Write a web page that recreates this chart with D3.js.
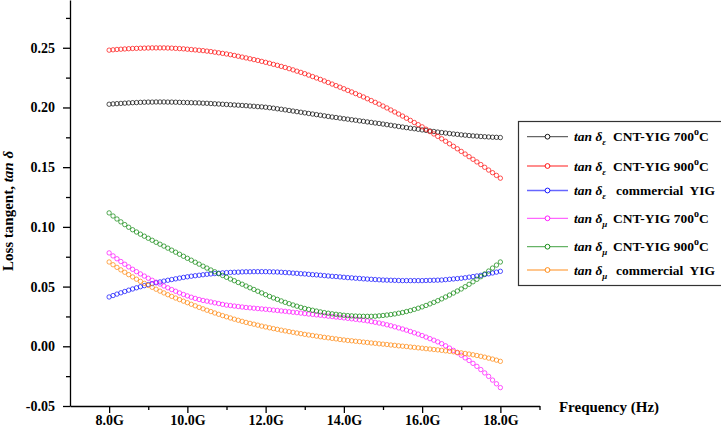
<!DOCTYPE html>
<head>
<meta charset="utf-8">
<style type="text/css">
    body {
      font-family: "Liberation Serif", "Times New Roman", serif;
      margin: 0;
      background: #fff;
    }
    text { font-weight: bold; font-family: "Liberation Serif", "Times New Roman", serif; }
</style>
</head>
<script src="https://d3js.org/d3.v7.min.js"></script>
<body>
    <svg width="721" height="428"></svg>
    <script>
        // frequency (GHz)
        var freq = [8.0, 8.1, 8.2, 8.3, 8.4, 8.5, 8.6, 8.7, 8.8, 8.9,
            9.0, 9.1, 9.2, 9.3, 9.4, 9.5, 9.6, 9.7, 9.8, 9.9,
            10.0, 10.1, 10.2, 10.3, 10.4, 10.5, 10.6, 10.7, 10.8, 10.9,
            11.0, 11.1, 11.2, 11.3, 11.4, 11.5, 11.6, 11.7, 11.8, 11.9,
            12.0, 12.1, 12.2, 12.3, 12.4, 12.5, 12.6, 12.7, 12.8, 12.9,
            13.0, 13.1, 13.2, 13.3, 13.4, 13.5, 13.6, 13.7, 13.8, 13.9,
            14.0, 14.1, 14.2, 14.3, 14.4, 14.5, 14.6, 14.7, 14.8, 14.9,
            15.0, 15.1, 15.2, 15.3, 15.4, 15.5, 15.6, 15.7, 15.8, 15.9,
            16.0, 16.1, 16.2, 16.3, 16.4, 16.5, 16.6, 16.7, 16.8, 16.9,
            17.0, 17.1, 17.2, 17.3, 17.4, 17.5, 17.6, 17.7, 17.8, 17.9,
            18.0];

        var tanEpsCnt700 = [.2027, .2030, .2032, .2034, .2036, .2038, .2040, .2041, .2043, .2044,
            .2045, .2045, .2046, .2046, .2046, .2045, .2045, .2044, .2043, .2042,
            .2041, .2040, .2039, .2038, .2036, .2035, .2033, .2031, .2029, .2027,
            .2025, .2023, .2021, .2019, .2017, .2015, .2012, .2010, .2007, .2005,
            .2002, .1998, .1994, .1989, .1985, .1980, .1975, .1970, .1965, .1960,
            .1955, .1950, .1945, .1940, .1935, .1930, .1925, .1920, .1916, .1911,
            .1906, .1902, .1897, .1893, .1888, .1884, .1879, .1875, .1870, .1866,
            .1861, .1856, .1851, .1846, .1841, .1836, .1831, .1826, .1822, .1817,
            .1812, .1808, .1803, .1799, .1794, .1790, .1786, .1782, .1778, .1775,
            .1771, .1768, .1765, .1762, .1760, .1757, .1755, .1753, .1751, .1750,
            .1748];

        var tanEpsCnt900 = [.2480, .2483, .2486, .2488, .2490, .2492, .2494, .2495, .2496, .2497,
            .2498, .2499, .2499, .2499, .2499, .2498, .2497, .2495, .2493, .2491,
            .2488, .2485, .2482, .2479, .2476, .2472, .2468, .2463, .2458, .2453,
            .2448, .2442, .2436, .2429, .2422, .2415, .2408, .2401, .2394, .2386,
            .2378, .2370, .2361, .2353, .2344, .2335, .2325, .2315, .2304, .2294,
            .2283, .2271, .2259, .2247, .2235, .2222, .2209, .2196, .2183, .2170,
            .2157, .2143, .2130, .2116, .2102, .2088, .2073, .2058, .2043, .2028,
            .2012, .1996, .1979, .1962, .1945, .1928, .1910, .1892, .1874, .1856,
            .1838, .1818, .1798, .1778, .1758, .1738, .1717, .1696, .1675, .1654,
            .1632, .1610, .1588, .1566, .1544, .1522, .1499, .1476, .1454, .1431,
            .1408];

        var tanEpsCommercial = [.0413, .0425, .0437, .0448, .0459, .0470, .0480, .0490, .0499, .0508,
            .0517, .0525, .0532, .0539, .0546, .0553, .0559, .0565, .0571, .0577,
            .0582, .0587, .0591, .0595, .0599, .0603, .0606, .0609, .0612, .0615,
            .0617, .0619, .0620, .0621, .0623, .0624, .0624, .0625, .0625, .0625,
            .0625, .0624, .0623, .0622, .0620, .0618, .0616, .0613, .0611, .0608,
            .0606, .0603, .0600, .0598, .0595, .0592, .0589, .0586, .0584, .0581,
            .0578, .0575, .0573, .0570, .0568, .0565, .0563, .0561, .0559, .0557,
            .0555, .0554, .0553, .0552, .0551, .0550, .0550, .0550, .0550, .0550,
            .0550, .0551, .0552, .0553, .0554, .0555, .0558, .0561, .0564, .0567,
            .0570, .0574, .0579, .0584, .0589, .0594, .0601, .0607, .0614, .0621,
            .0628];

        var tanMuCnt700 = [.0782, .0757, .0733, .0710, .0687, .0665, .0645, .0625, .0606, .0588,
            .0570, .0553, .0537, .0521, .0505, .0490, .0475, .0461, .0447, .0434,
            .0422, .0411, .0401, .0392, .0384, .0378, .0371, .0364, .0358, .0351,
            .0345, .0341, .0337, .0333, .0329, .0325, .0322, .0319, .0316, .0313,
            .0310, .0307, .0303, .0300, .0296, .0293, .0289, .0285, .0282, .0278,
            .0274, .0270, .0267, .0263, .0260, .0256, .0252, .0249, .0245, .0242,
            .0238, .0234, .0230, .0226, .0222, .0218, .0213, .0207, .0201, .0195,
            .0188, .0180, .0172, .0163, .0154, .0145, .0135, .0124, .0113, .0102,
            .0090, .0077, .0064, .0051, .0037, .0022, .0004, -.0015, -.0034, -.0054,
            -.0075, -.0097, -.0119, -.0143, -.0168, -.0195, -.0223, -.0252, -.0283, -.0314,
            -.0346];

        var tanMuCnt900 = [.1117, .1091, .1066, .1042, .1019, .0997, .0976, .0957, .0939, .0922,
            .0905, .0888, .0871, .0855, .0839, .0822, .0805, .0788, .0771, .0754,
            .0737, .0721, .0704, .0688, .0671, .0655, .0639, .0624, .0608, .0593,
            .0578, .0563, .0549, .0534, .0520, .0505, .0490, .0476, .0461, .0447,
            .0432, .0418, .0405, .0393, .0380, .0368, .0357, .0346, .0336, .0326,
            .0317, .0309, .0302, .0295, .0288, .0282, .0277, .0272, .0268, .0264,
            .0260, .0257, .0255, .0253, .0252, .0251, .0251, .0251, .0252, .0255,
            .0258, .0262, .0266, .0271, .0277, .0283, .0291, .0299, .0309, .0319,
            .0330, .0342, .0355, .0368, .0382, .0397, .0413, .0429, .0446, .0463,
            .0480, .0499, .0519, .0540, .0561, .0583, .0606, .0630, .0655, .0680,
            .0706];

        var tanMuCommercial = [.0706, .0683, .0661, .0640, .0620, .0600, .0581, .0562, .0544, .0527,
            .0510, .0494, .0478, .0462, .0447, .0432, .0418, .0404, .0391, .0378,
            .0365, .0352, .0339, .0326, .0314, .0302, .0291, .0279, .0268, .0257,
            .0247, .0237, .0227, .0218, .0209, .0200, .0192, .0185, .0177, .0169,
            .0162, .0155, .0148, .0142, .0135, .0129, .0123, .0117, .0111, .0106,
            .0100, .0095, .0090, .0085, .0080, .0075, .0071, .0066, .0062, .0057,
            .0053, .0049, .0046, .0042, .0039, .0035, .0032, .0028, .0025, .0021,
            .0018, .0015, .0011, .0008, .0004, .0001, -.0002, -.0006, -.0009, -.0013,
            -.0016, -.0020, -.0023, -.0027, -.0030, -.0034, -.0038, -.0042, -.0046, -.0051,
            -.0055, -.0060, -.0065, -.0071, -.0077, -.0084, -.0091, -.0099, -.0107, -.0116,
            -.0126];

        var seriesNames = ["CNT-YIG 700", "CNT-YIG 900", "commercial  YIG",
                           "CNT-YIG 700", "CNT-YIG 900", "commercial  YIG"];
        var seriesSub = ["\u03b5", "\u03b5", "\u03b5", "\u03bc", "\u03bc", "\u03bc"];
        var seriesColors = ["#000000", "#ff0000", "#0000ff", "#ff00ff", "#008000", "#ff8000"];
        var xTicks = [8, 10, 12, 14, 16, 18];
        var yTicks = [-0.05, 0.00, 0.05, 0.10, 0.15, 0.20, 0.25];

        var series = [tanEpsCnt700, tanEpsCnt900, tanEpsCommercial,
                      tanMuCnt700, tanMuCnt900, tanMuCommercial];

        var svg = d3.select("svg");

        var x = d3.scaleLinear().domain([7, 19]).range([70, 539.5]);
        var y = d3.scaleLinear().domain([-0.05, 0.29]).range([406, 0]);

        // minor ticks first
        svg.append("g")
            .attr("transform", "translate(0,406)")
            .call(d3.axisBottom(x).tickValues([9, 11, 13, 15, 17, 19]).tickSize(4).tickFormat(""))
            .call(function(g) { g.select(".domain").remove(); });
        svg.append("g")
            .attr("transform", "translate(70,0)")
            .call(d3.axisLeft(y).tickValues([-0.025, 0.025, 0.075, 0.125, 0.175, 0.225, 0.275]).tickSize(4).tickFormat(""))
            .call(function(g) { g.select(".domain").remove(); });

        var xAxis = svg.append("g")
            .attr("transform", "translate(0,406)")
            .call(d3.axisBottom(x).tickValues(xTicks).tickSize(7).tickPadding(2).tickSizeOuter(0)
                .tickFormat(function(d) { return d.toFixed(1) + "G"; }));

        var yAxis = svg.append("g")
            .attr("transform", "translate(70,0)")
            .call(d3.axisLeft(y).tickValues(yTicks).tickSize(7).tickPadding(8).tickSizeOuter(0)
                .tickFormat(function(d) { return d.toFixed(2); }));

        svg.selectAll(".tick text")
            .attr("font-family", "'Liberation Serif', serif")
            .attr("font-size", 14)
            .attr("fill", "#000");
        svg.selectAll(".domain, .tick line").attr("stroke", "#000").attr("stroke-width", 1.3);

        // data markers
        series.forEach(function(vals, i) {
            svg.append("g").selectAll("circle")
                .data(vals)
                .enter().append("circle")
                .attr("cx", function(d, j) { return x(freq[j]); })
                .attr("cy", function(d) { return y(d); })
                .attr("r", 2.2)
                .attr("fill", "none")
                .attr("stroke", seriesColors[i])
                .attr("stroke-opacity", 0.75)
                .attr("stroke-width", 0.9);
        });

        // axis titles
        var yt = svg.append("text")
            .attr("transform", "translate(13,211) rotate(-90)")
            .attr("text-anchor", "middle")
            .style("font-size", "15px");
        yt.append("tspan").text("Loss tangent, ");
        yt.append("tspan").style("font-style", "italic").text("tan \u03b4");

        svg.append("text")
            .attr("x", 609).attr("y", 412)
            .attr("text-anchor", "middle")
            .style("font-size", "15px")
            .text("Frequency (Hz)");

        // legend
        svg.append("rect")
            .attr("x", 518.5).attr("y", 121.5)
            .attr("width", 210).attr("height", 164)
            .attr("fill", "none").attr("stroke", "#333").attr("stroke-width", 1.2);

        var rowY = [136.7, 166, 190.5, 218.3, 246.7, 270];
        var leg = svg.append("g").selectAll("g")
            .data(series)
            .enter().append("g")
            .attr("transform", function(d, i) { return "translate(0," + rowY[i] + ")"; });

        leg.append("line")
            .attr("x1", 527).attr("x2", 568)
            .attr("stroke", function(d, i) { return seriesColors[i]; })
            .attr("stroke-opacity", 0.6)
            .attr("stroke-width", 1.3);
        leg.append("circle")
            .attr("cx", 547.5).attr("r", 2.4)
            .attr("fill", "#fff")
            .attr("stroke", function(d, i) { return seriesColors[i]; })
            .attr("stroke-width", 0.9);

        var lt = leg.append("text")
            .attr("x", 574).attr("y", 4.5)
            .style("font-size", "13.5px")
            .attr("xml:space", "preserve");
        lt.append("tspan").style("font-style", "italic").text("tan \u03b4");
        lt.append("tspan").style("font-style", "italic").style("font-size", "9px")
            .attr("dy", 4).text(function(d, i) { return seriesSub[i]; });
        lt.append("tspan").attr("x", function(d, i) { return i % 3 == 2 ? 616 : 613; }).attr("dy", -4)
            .text(function(d, i) { return seriesNames[i]; });
        lt.filter(function(d, i) { return i % 3 != 2; }).append("tspan")
            .style("font-size", "10px").attr("dy", -6).text("o");
        lt.filter(function(d, i) { return i % 3 != 2; }).append("tspan")
            .attr("dy", 6).text("C");
    </script>
</body>
